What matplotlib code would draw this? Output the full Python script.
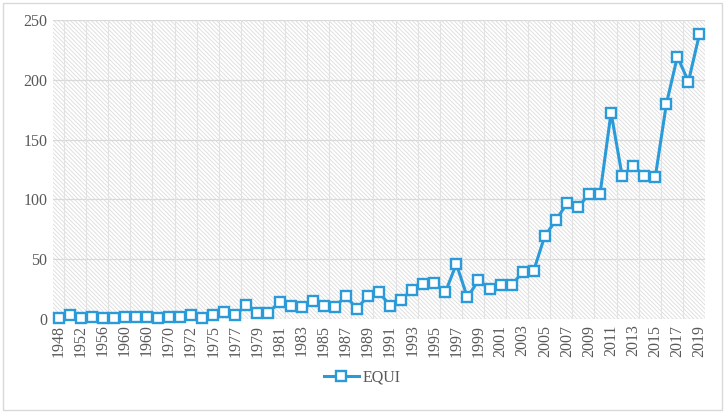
import matplotlib
matplotlib.use("Agg")
import matplotlib.pyplot as plt
from matplotlib.patches import Rectangle
from matplotlib.lines import Line2D

categories = ["1948", "1950", "1952", "1954", "1956", "1958", "1960", "1962", "1960", "1965",
              "1970", "1971", "1972", "1974", "1975", "1976", "1977", "1978", "1979", "1980",
              "1981", "1982", "1983", "1984", "1985", "1986", "1987", "1988", "1989", "1990",
              "1991", "1992", "1993", "1994", "1995", "1996", "1997", "1998", "1999", "2000",
              "2001", "2002", "2003", "2004", "2005", "2006", "2007", "2008", "2009", "2010",
              "2011", "2012", "2013", "2014", "2015", "2016", "2017", "2018", "2019"]
equi = [1, 3, 1, 2, 1, 1, 2, 2, 2, 1,
        2, 2, 3, 1, 3.5, 5.5, 3.5, 11.5, 5, 5,
        14.5, 11, 10, 15.3, 11, 10, 19.3, 8.6, 19.3, 22.4,
        11.2, 16.2, 24.2, 29, 30.2, 22.3, 46, 18, 32.4, 25.5,
        28.2, 28.3, 39.3, 40.4, 69.3, 82.4, 96.6, 93.3, 104.4, 104.4,
        172.6, 119.7, 128.3, 119.7, 118.6, 179.6, 219.4, 198.5, 238.3]
series_name = "EQUI"
y_ticks = [0, 50, 100, 150, 200, 250]

BLUE = "#2A9AD8"
GRID = "#D9D9D9"
TEXT = "#595959"

plt.rcParams["font.family"] = ["Liberation Serif", "DejaVu Serif"]
plt.rcParams["hatch.linewidth"] = 0.6
plt.rcParams["hatch.color"] = "#DCDCDC"

W, H = 727, 416
fig = plt.figure(figsize=(W / 100, H / 100), dpi=100)
fig.patch.set_facecolor("white")

# outer chart border
fig.add_artist(Rectangle((3 / W, 1 - 410 / H), (722 - 3) / W, (410 - 3) / H,
                         transform=fig.transFigure, fill=False,
                         edgecolor=GRID, linewidth=1.0))

ax = fig.add_axes([53 / W, 1 - 319 / H, (705 - 53) / W, (319 - 20) / H])
n = len(categories)
xs = list(range(n))
ax.set_xlim(-0.5, n - 0.5)
ax.set_ylim(0, 250)

# hatched background
ax.add_patch(Rectangle((0, 0), 1, 1, transform=ax.transAxes, facecolor="white",
                       edgecolor="#DCDCDC", hatch="\\" * 8, linewidth=0, zorder=0))

for s in ax.spines.values():
    s.set_visible(False)

for yv in y_ticks:
    ax.axhline(yv, color=GRID, linewidth=0.9, zorder=1)
for k in range(0, n, 2):
    ax.axvline(k + 0.5, color="#E2E2E2", linewidth=0.8, zorder=1)

ax.plot(xs, equi, color=BLUE, linewidth=2.2, marker="s", markersize=6.5,
        markerfacecolor="white", markeredgecolor=BLUE, markeredgewidth=1.7, zorder=3,
        clip_on=False)

ax.set_yticks(y_ticks)
ax.set_yticklabels([str(v) for v in y_ticks])
ax.set_xticks(xs[::2])
ax.set_xticklabels(categories[::2], rotation=90)
ax.tick_params(axis="both", length=0, labelsize=11.5, labelcolor=TEXT)
ax.tick_params(axis="y", pad=4)
ax.tick_params(axis="x", pad=4)

handle = Line2D([], [], color=BLUE, linewidth=2.2, marker="s", markersize=6.5,
                markerfacecolor="white", markeredgecolor=BLUE, markeredgewidth=1.7)
fig.legend([handle], [series_name], loc="center", bbox_to_anchor=(362 / W, 1 - 378 / H),
           frameon=False, fontsize=11.5, labelcolor=TEXT, handlelength=2.2,
           handletextpad=0.2)

fig.savefig("out.png", dpi=100, facecolor="white")
